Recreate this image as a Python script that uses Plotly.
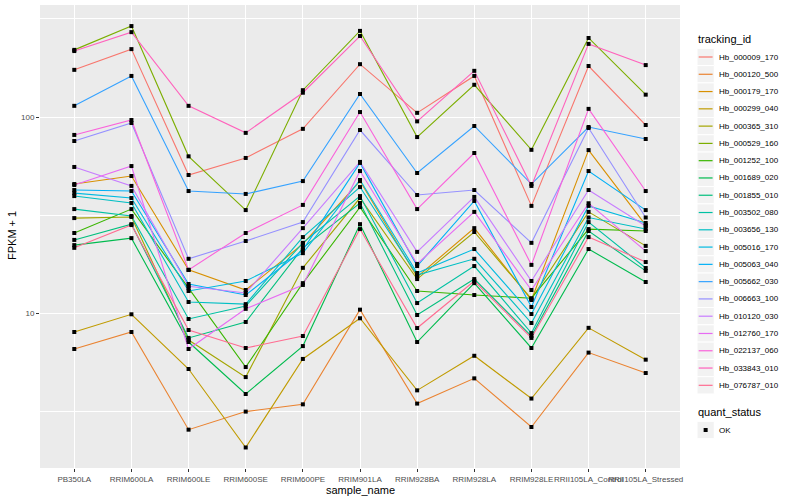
import plotly.graph_objects as go

samples = ["PB350LA", "RRIM600LA", "RRIM600LE", "RRIM600SE", "RRIM600PE", "RRIM901LA",
           "RRIM928BA", "RRIM928LA", "RRIM928LE", "RRII105LA_Control", "RRII105LA_Stressed"]

tracking_ids = ["Hb_000009_170", "Hb_000120_500", "Hb_000179_170", "Hb_000299_040", "Hb_000365_310",
                "Hb_000529_160", "Hb_001252_100", "Hb_001689_020", "Hb_001855_010", "Hb_003502_080",
                "Hb_003656_130", "Hb_005016_170", "Hb_005063_040", "Hb_005662_030", "Hb_006663_100",
                "Hb_010120_030", "Hb_012760_170", "Hb_022137_060", "Hb_033843_010", "Hb_076787_010"]

colors = ["#F8766D", "#EA8331", "#D89000", "#C09B00", "#A3A500", "#7CAE00", "#39B600", "#00BB4E",
          "#00BF7D", "#00C1A3", "#00BFC4", "#00BAE0", "#00B0F6", "#35A2FF", "#9590FF", "#C77CFF",
          "#E76BF3", "#FA62DB", "#FF62BC", "#FF6C91"]

quant_status = ["OK"]

# FPKM + 1 values, one list per tracking_id (order = samples)
hb_000009_170 = [174, 222, 50.6, 61.8, 87, 186, 105, 162, 35.2, 182, 91]
hb_000120_500 = [6.55, 8.0, 2.54, 3.14, 3.42, 10.4, 3.45, 4.64, 2.62, 6.28, 4.94]
hb_000179_170 = [45.5, 50, 16.6, 13.1, 22.5, 47.1, 15.3, 27.1, 11.65, 67.8, 28.1]
hb_000299_040 = [8.0, 9.85, 5.18, 2.06, 5.83, 9.4, 4.03, 6.05, 3.66, 8.4, 5.78]
hb_000365_310 = [30.5, 30.9, 7.28, 4.71, 17.0, 38.6, 14.9, 25.9, 11.8, 32.8, 22.0]
hb_000529_160 = [220, 291, 63, 33.5, 137, 275, 79, 146, 68, 253, 130]
hb_001252_100 = [25.6, 33.9, 13.4, 5.3, 14.2, 34.7, 12.95, 12.35, 11.9, 26.8, 26.2]
hb_001689_020 = [22.2, 24.1, 7.11, 3.86, 6.78, 28.4, 7.11, 14.2, 6.63, 21.2, 14.39]
hb_001855_010 = [23.6, 28.4, 7.46, 9.0, 21.5, 36.4, 9.77, 14.9, 7.63, 26.2, 16.4]
hb_003502_080 = [33.9, 31.25, 9.32, 10.85, 22.8, 39.5, 11.24, 17.36, 7.9, 29.1, 16.96]
hb_003656_130 = [39.5, 36.4, 11.38, 11.1, 24.4, 43.9, 15.6, 18.9, 8.89, 30.7, 26.8]
hb_005016_170 = [40.9, 38.6, 12.95, 14.56, 20.2, 47.7, 16.0, 21.2, 9.88, 35.2, 28.8]
hb_005063_040 = [42.4, 41.9, 14.06, 12.35, 20.95, 58.3, 17.36, 37.3, 10.73, 53, 33.5]
hb_005662_030 = [114, 162, 41.9, 40.5, 47.1, 131, 51.8, 90, 45.5, 88.9, 77.2]
hb_006663_100 = [75.4, 93.2, 18.9, 23.3, 29.1, 85.8, 40, 42.4, 22.8, 87.9, 30.7]
hb_010120_030 = [55.6, 44.5, 13.7, 12.65, 27.1, 59, 20.5, 39.1, 14.56, 42.4, 27.8]
hb_012760_170 = [45, 56.2, 6.55, 10.5, 13.9, 53, 17.8, 32.8, 13.1, 36.3, 20.7]
hb_022137_060 = [81, 96.5, 16.6, 25.6, 35.6, 106, 33.9, 65.5, 17.6, 110, 41.9]
hb_033843_010 = [217, 271, 114, 83, 133, 259, 95, 172, 44.5, 236, 184]
hb_076787_010 = [21.5, 28.1, 8.19, 6.63, 7.63, 26.8, 8.38, 14.56, 7.46, 24.4, 18.2]

series = [hb_000009_170, hb_000120_500, hb_000179_170, hb_000299_040, hb_000365_310,
          hb_000529_160, hb_001252_100, hb_001689_020, hb_001855_010, hb_003502_080,
          hb_003656_130, hb_005016_170, hb_005063_040, hb_005662_030, hb_006663_100,
          hb_010120_030, hb_012760_170, hb_022137_060, hb_033843_010, hb_076787_010]

FONT = "Liberation Sans, Arial, sans-serif"
W, H = 800, 500
L_PX, R_PX, T_PX, B_PX = 40, 680, 5, 468   # panel edges in pixels


def px(x):
    return (x - L_PX) / (R_PX - L_PX)


def py(y):
    return (B_PX - y) / (B_PX - T_PX)


fig = go.Figure()
for name, col, vals in zip(tracking_ids, colors, series):
    fig.add_trace(go.Scatter(x=samples, y=vals, mode="lines", name=name, showlegend=False,
                             line=dict(color=col, width=1.1)))

all_x = [s for _ in series for s in samples]
all_y = [v for vals in series for v in vals]
fig.add_trace(go.Scatter(x=all_x, y=all_y, mode="markers", name=quant_status[0], showlegend=False,
                         marker=dict(symbol="square", size=4, color="black")))

shapes = []
annotations = []

# axis titles
annotations.append(dict(text="sample_name", xref="paper", yref="paper", x=px(360), y=py(490),
                        xanchor="center", yanchor="middle", showarrow=False,
                        font=dict(family=FONT, size=11, color="black")))
annotations.append(dict(text="FPKM + 1", xref="paper", yref="paper", x=px(12), y=py(236),
                        xanchor="center", yanchor="middle", showarrow=False, textangle=-90,
                        font=dict(family=FONT, size=11, color="black")))

# manual ggplot-style legend: tracking_id
KEY_X0, KEY_W, KEY_H = 697, 17.28, 17.28
annotations.append(dict(text="tracking_id", xref="paper", yref="paper", x=px(696), y=py(39),
                        xanchor="left", yanchor="middle", showarrow=False,
                        font=dict(family=FONT, size=11, color="black")))
for i, (name, col) in enumerate(zip(tracking_ids, colors)):
    cy = 57 + KEY_H * i
    shapes.append(dict(type="rect", xref="paper", yref="paper",
                       x0=px(KEY_X0), x1=px(KEY_X0 + KEY_W), y0=py(cy - KEY_H / 2), y1=py(cy + KEY_H / 2),
                       fillcolor="#F2F2F2", line=dict(color="white", width=1)))
    shapes.append(dict(type="line", xref="paper", yref="paper",
                       x0=px(KEY_X0 + 1.7), x1=px(KEY_X0 + KEY_W - 1.7), y0=py(cy), y1=py(cy),
                       line=dict(color=col, width=1.2)))
    annotations.append(dict(text=name, xref="paper", yref="paper", x=px(717), y=py(cy),
                            xanchor="left", yanchor="middle", showarrow=False,
                            font=dict(family=FONT, size=8, color="black")))

# quant_status legend
annotations.append(dict(text="quant_status", xref="paper", yref="paper", x=px(696), y=py(412),
                        xanchor="left", yanchor="middle", showarrow=False,
                        font=dict(family=FONT, size=11, color="black")))
cy = 430
shapes.append(dict(type="rect", xref="paper", yref="paper",
                   x0=px(KEY_X0), x1=px(KEY_X0 + KEY_W), y0=py(cy - KEY_H / 2), y1=py(cy + KEY_H / 2),
                   fillcolor="#F2F2F2", line=dict(color="white", width=1)))
shapes.append(dict(type="rect", xref="paper", yref="paper",
                   x0=px(KEY_X0 + KEY_W / 2 - 2), x1=px(KEY_X0 + KEY_W / 2 + 2),
                   y0=py(cy - 2), y1=py(cy + 2), fillcolor="black", line=dict(width=0)))
annotations.append(dict(text=quant_status[0], xref="paper", yref="paper", x=px(717), y=py(cy),
                        xanchor="left", yanchor="middle", showarrow=False,
                        font=dict(family=FONT, size=8, color="black")))

fig.update_layout(
    width=W, height=H,
    margin=dict(l=L_PX, r=W - R_PX, t=T_PX, b=H - B_PX, autoexpand=False),
    paper_bgcolor="white", plot_bgcolor="#EBEBEB",
    font=dict(family=FONT, size=8, color="#4D4D4D"),
    showlegend=False,
    shapes=shapes, annotations=annotations,
)
fig.update_xaxes(type="category", categoryorder="array", categoryarray=samples,
                 range=[-0.6, len(samples) - 0.4], showgrid=True, gridcolor="white", gridwidth=1.1,
                 ticks="outside", ticklen=3, tickcolor="#333333", tickangle=0, automargin=False,
                 tickfont=dict(family=FONT, size=8, color="#4D4D4D"), zeroline=False, showline=False)
fig.update_yaxes(type="log", range=[0.2092, 2.5714], tickvals=[10, 100], ticktext=["10", "100"],
                 showgrid=True, gridcolor="white", gridwidth=1.1, automargin=False,
                 minor=dict(tickvals=[3.1623, 31.623, 316.23], showgrid=True, gridcolor="white",
                            gridwidth=0.55, ticks=""),
                 ticks="outside", ticklen=3, tickcolor="#333333",
                 tickfont=dict(family=FONT, size=8, color="#4D4D4D"), zeroline=False, showline=False)

fig.write_html("out.html", config={"displayModeBar": False},
               post_script="document.body.style.margin='0';")
